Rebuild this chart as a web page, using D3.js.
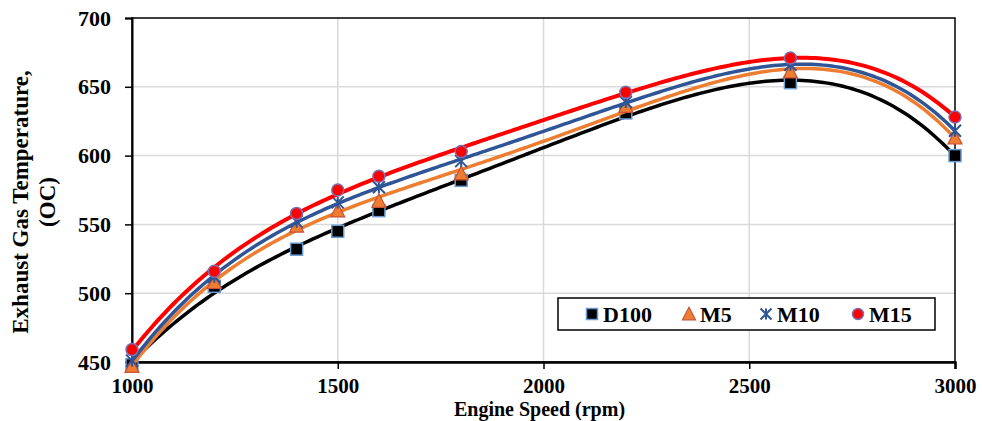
<!DOCTYPE html>
<html lang="en">
<head>
  <meta charset="UTF-8">
  <title>Exhaust Gas Temperature</title>
  <script src="https://d3js.org/d3.v7.min.js"></script>
  <style>
    body { margin: 0; background: #fff; }
    text { font-family: "Liberation Serif", "Times New Roman", serif; font-weight: bold; fill: #000; }
  </style>
</head>
<body>
  <div id="chart"></div>
  <script>
    // engine speed (rpm) and exhaust gas temperature for each blend
    const speed = [1000, 1200, 1400, 1500, 1600, 1800, 2200, 2600, 3000];
    const d100 = [448, 505, 532, 545, 560, 582, 631, 653, 600];
    const m5   = [447, 508, 549, 560, 567, 587, 636, 661, 613];
    const m10  = [451, 512, 552, 566, 577, 596, 639, 666, 618];
    const m15  = [459, 516, 558, 575, 585, 603, 646, 671, 628];
    const xTicks = [1000, 1500, 2000, 2500, 3000];
    const yTicks = [450, 500, 550, 600, 650, 700];

    const series = [
      { name: "D100", values: d100, line: "#000000", marker: "square" },
      { name: "M5",   values: m5,   line: "#ED7D31", marker: "triangle" },
      { name: "M10",  values: m10,  line: "#2F5597", marker: "star" },
      { name: "M15",  values: m15,  line: "#FF0000", marker: "circle" }
    ];

    const width = 982, height = 421;
    const margin = { top: 18, right: 27, bottom: 59, left: 132 };
    const iw = width - margin.left - margin.right;
    const ih = height - margin.top - margin.bottom;

    const svg = d3.select("#chart").append("svg")
      .attr("width", width)
      .attr("height", height);

    const g = svg.append("g").attr("transform", `translate(${margin.left},${margin.top})`);

    const x = d3.scaleLinear().domain([1000, 3000]).range([0, iw]);
    const y = d3.scaleLinear().domain([450, 700]).range([ih, 0]);

    // grid
    g.selectAll(".hgrid").data(yTicks.filter(v => v > 450 && v < 700)).enter()
      .append("line")
      .attr("x1", 0).attr("x2", iw)
      .attr("y1", d => y(d)).attr("y2", d => y(d))
      .attr("stroke", "#d9d9d9").attr("stroke-width", 1.5);
    g.selectAll(".vgrid").data(xTicks.filter(v => v > 1000 && v < 3000)).enter()
      .append("line")
      .attr("y1", 0).attr("y2", ih)
      .attr("x1", d => x(d)).attr("x2", d => x(d))
      .attr("stroke", "#d9d9d9").attr("stroke-width", 1.5);

    // frame (top / right)
    g.append("rect").attr("width", iw).attr("height", ih)
      .attr("fill", "none").attr("stroke", "#000").attr("stroke-width", 1.5);

    // axes
    const yAxis = g.append("g")
      .call(d3.axisLeft(y).tickValues(yTicks).tickSize(7).tickPadding(14).tickFormat(d3.format("d")));
    yAxis.select(".domain").attr("stroke-width", 2);
    yAxis.selectAll(".tick line").attr("stroke-width", 1.5);
    yAxis.selectAll("text").style("font-size", "22px");

    const xAxis = g.append("g").attr("transform", `translate(0,${ih})`)
      .call(d3.axisBottom(x).tickValues(xTicks).tickSize(7).tickPadding(9).tickFormat(d3.format("d")));
    xAxis.select(".domain").attr("stroke-width", 2.5);
    xAxis.selectAll(".tick line").attr("stroke-width", 1.5);
    xAxis.selectAll("text").style("font-size", "21px");

    // axis titles
    svg.append("text")
      .attr("x", margin.left + iw / 2 - 4).attr("y", 416)
      .attr("text-anchor", "middle").style("font-size", "20px")
      .text("Engine Speed (rpm)");
    const yt = svg.append("text")
      .attr("transform", "translate(0,202) rotate(-90)")
      .attr("text-anchor", "middle").style("font-size", "23px");
    yt.append("tspan").attr("x", 0).attr("y", 28).text("Exhaust Gas Temperature,");
    yt.append("tspan").attr("x", 0).attr("y", 55).text("(OC)");

    // polynomial trendline (least squares)
    function polyFit(xs, ys, order) {
      const n = order + 1;
      const t = xs.map(v => (v - 2000) / 1000);
      const A = d3.range(n).map(() => new Array(n + 1).fill(0));
      t.forEach((tv, k) => {
        for (let i = 0; i < n; i++) {
          for (let j = 0; j < n; j++) A[i][j] += Math.pow(tv, i + j);
          A[i][n] += ys[k] * Math.pow(tv, i);
        }
      });
      for (let c = 0; c < n; c++) {
        let p = c;
        for (let r = c + 1; r < n; r++) if (Math.abs(A[r][c]) > Math.abs(A[p][c])) p = r;
        [A[c], A[p]] = [A[p], A[c]];
        for (let r = 0; r < n; r++) {
          if (r === c) continue;
          const f = A[r][c] / A[c][c];
          for (let k = c; k <= n; k++) A[r][k] -= f * A[c][k];
        }
      }
      const coef = A.map((row, i) => row[n] / row[i]);
      return v => {
        const tv = (v - 2000) / 1000;
        return coef.reduce((s, c, i) => s + c * Math.pow(tv, i), 0);
      };
    }

    const line = d3.line().x(d => x(d[0])).y(d => y(d[1]));
    const samples = d3.range(1000, 3001, 10);

    function drawMarker(sel, type, size) {
      if (type === "square") {
        sel.append("rect")
          .attr("x", -size / 2).attr("y", -size / 2)
          .attr("width", size).attr("height", size)
          .attr("fill", "#000").attr("stroke", "#6A9BD1").attr("stroke-width", 1.5);
      } else if (type === "triangle") {
        const h = size * 1.05;
        sel.append("path")
          .attr("d", `M0,${-h / 2 - 1}L${size / 2 + 1},${h / 2}L${-size / 2 - 1},${h / 2}Z`)
          .attr("fill", "#ED7D31").attr("stroke", "#C8503A").attr("stroke-width", 1.2);
      } else if (type === "star") {
        const r = size / 2;
        sel.append("path")
          .attr("d", `M${-r},${-r}L${r},${r}M${-r},${r}L${r},${-r}M0,${-r}L0,${r}`)
          .attr("stroke", "#2F5597").attr("stroke-width", 2).attr("fill", "none");
      } else {
        sel.append("circle").attr("r", size / 2)
          .attr("fill", "#FF0000").attr("stroke", "#7F6FB0").attr("stroke-width", 1.5);
      }
    }

    series.forEach(s => {
      const pts = speed.map((v, i) => [v, s.values[i]]);
      const f = polyFit(speed, s.values, 4);
      g.append("path")
        .datum(samples.map(v => [v, f(v)]))
        .attr("d", line)
        .attr("fill", "none")
        .attr("stroke", s.line)
        .attr("stroke-width", s.name === "M15" ? 4 : 3.5);
      g.selectAll(null).data(pts).enter()
        .append("g")
        .attr("transform", d => `translate(${x(d[0])},${y(d[1])})`)
        .each(function () { drawMarker(d3.select(this), s.marker, 12); });
    });

    // legend
    const lg = svg.append("g").attr("transform", "translate(558,298)");
    lg.append("rect").attr("width", 377).attr("height", 32)
      .attr("fill", "#fff").attr("stroke", "#000").attr("stroke-width", 1.5);
    const legendX = [34, 131, 208, 300];
    series.forEach((s, i) => {
      const e = lg.append("g").attr("transform", `translate(${legendX[i]},16)`);
      drawMarker(e, s.marker, 11);
      e.append("text").attr("x", 11).attr("y", 8).style("font-size", "22px").text(s.name);
    });
  </script>
</body>
</html>
